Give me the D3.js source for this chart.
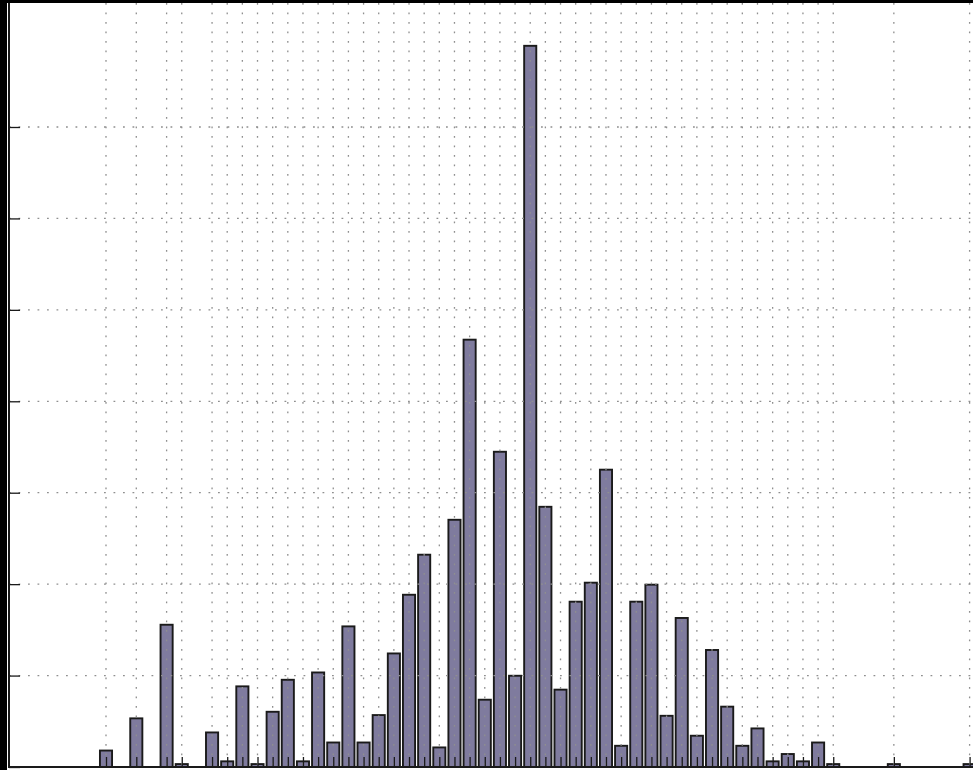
<!DOCTYPE html>
<html>
<head>
<meta charset="utf-8">
<script src="https://cdn.jsdelivr.net/npm/d3@7"></script>
<style>
  html, body { margin: 0; padding: 0; background: #fff; }
  svg { display: block; }
</style>
</head>
<body>
<div id="chart"></div>
<script>
// bin index of every bar, and its height (grid step = 5)
const bins = [0, 2, 4, 5, 7, 8, 9, 10, 11, 12, 13, 14, 15, 16, 17, 18, 19, 20, 21, 22,
              23, 24, 25, 26, 27, 28, 29, 30, 31, 32, 33, 34, 35, 36, 37, 38, 39, 40,
              41, 42, 43, 44, 45, 46, 47, 48, 52, 57];
const values = [0.9, 2.66, 7.78, 0.16, 1.89, 0.31, 4.41, 0.16, 3.02, 4.77, 0.31, 5.17,
                1.34, 7.69, 1.34, 2.84, 6.21, 9.42, 11.61, 1.07, 13.52, 23.37, 3.68,
                17.24, 4.99, 39.44, 14.23, 4.23, 9.04, 10.08, 16.26, 1.16, 9.04, 9.97,
                2.8, 8.15, 1.71, 6.4, 3.3, 1.16, 2.11, 0.31, 0.71, 0.31, 1.34, 0.16,
                0.16, 0.16];
const yTicks = [0, 5, 10, 15, 20, 25, 30, 35];

const W = 973, H = 770;
const svg = d3.select('#chart').append('svg')
    .attr('width', W)
    .attr('height', H);

// black frame of the cropped figure (top and left)
svg.append('rect').attr('width', W).attr('height', H).attr('fill', '#000');
svg.append('rect').attr('x', 7).attr('y', 3).attr('width', W).attr('height', H)
    .attr('fill', '#fff');

const x = d3.scaleLinear().domain([0, 57]).range([106, 969.6]);
const y = d3.scaleLinear().domain([0, 35]).range([767, 127]);
const plotLeft = 9, plotTop = 3;

const data = bins.map((b, i) => ({bin: b, val: values[i]}));

// bars
svg.append('g').selectAll('rect')
    .data(data)
    .join('rect')
    .attr('x', d => x(d.bin - 0.4))
    .attr('width', x(0.8) - x(0))
    .attr('y', d => y(d.val))
    .attr('height', d => y(0) - y(d.val))
    .attr('fill', '#7f7b9e')
    .attr('stroke', '#1a1a1a')
    .attr('stroke-width', 1.9);

// dotted grid (drawn on top of bars like matplotlib)
const grid = svg.append('g').attr('stroke', '#8f8f8f').attr('stroke-width', 1.3)
    .attr('stroke-dasharray', '1.8,7.7');
grid.selectAll('.gy')
    .data(yTicks.slice(1))
    .join('line')
    .attr('x1', plotLeft).attr('x2', W)
    .attr('y1', d => y(d)).attr('y2', d => y(d));
grid.selectAll('.gx')
    .data(bins)
    .join('line')
    .attr('x1', d => x(d)).attr('x2', d => x(d))
    .attr('y1', plotTop).attr('y2', y(0));

// axes with inward ticks
const yAxis = svg.append('g')
    .attr('transform', `translate(${plotLeft},0)`)
    .call(d3.axisLeft(y).tickValues(yTicks).tickSize(-11).tickFormat(''));
yAxis.select('.domain').remove();

const xAxis = svg.append('g')
    .attr('transform', `translate(0,${y(0)})`)
    .call(d3.axisBottom(x).tickValues(bins).tickSize(-10).tickFormat(''));
xAxis.select('.domain').remove();

svg.selectAll('.tick line').attr('stroke', '#1a1a1a').attr('stroke-width', 1.3);

// spines
svg.append('line')
    .attr('x1', plotLeft).attr('x2', plotLeft)
    .attr('y1', plotTop).attr('y2', y(0) + 1)
    .attr('stroke', '#1a1a1a').attr('stroke-width', 2);
svg.append('line')
    .attr('x1', plotLeft).attr('x2', W)
    .attr('y1', y(0)).attr('y2', y(0))
    .attr('stroke', '#1a1a1a').attr('stroke-width', 2);
</script>
</body>
</html>
